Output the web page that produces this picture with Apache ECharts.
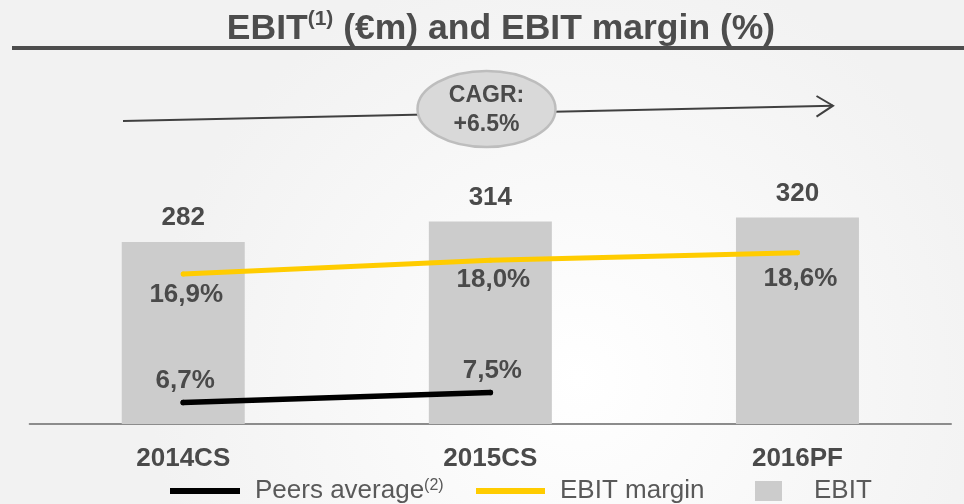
<!DOCTYPE html>
<html>
<head>
<meta charset="utf-8">
<script src="https://cdn.jsdelivr.net/npm/echarts@6/dist/echarts.min.js"></script>
<style>
  html, body { margin: 0; padding: 0; }
  #main { width: 964px; height: 504px; }
</style>
</head>
<body>
<div id="main"></div>
<script>
var categories = ['2014CS', '2015CS', '2016PF'];
var ebit = [282, 314, 320];
var ebitMargin = [16.9, 18.0, 18.6];
var peersAverage = [6.7, 7.5, null];
var cagrText = 'CAGR:\n+6.5%';

var FONT = 'Arial, "Liberation Sans", sans-serif';
var TEXT = '#4a4a4a';
// gap under each margin point (labels sit a bit unevenly in the original)
var marginGap = [5, 4, 11];

function pct(v) {
    return v.toFixed(1).replace('.', ',') + '%';
}

var myChart = echarts.init(document.getElementById('main'));

var option = {
    backgroundColor: {
        type: 'radial', x: 0.6, y: 0.75, r: 0.85,
        colorStops: [{offset: 0, color: '#ffffff'}, {offset: 1, color: '#f2f2f2'}]
    },
    animation: false,
    title: {
        text: '{a|EBIT}{s|(1)}{a| (€m) and EBIT margin (%)}',
        left: 496,
        top: 4,
        textAlign: 'center',
        textStyle: {
            rich: {
                a: {fontFamily: FONT, fontSize: 35.5, fontWeight: 'bold', color: '#4d4d4d', lineHeight: 40},
                s: {fontFamily: FONT, fontSize: 21, fontWeight: 'bold', color: '#4d4d4d', lineHeight: 40, verticalAlign: 'top', padding: [0, 0, 12, 0]}
            }
        }
    },
    grid: {left: 29.7, right: 13, top: 101.5, bottom: 80, outerBoundsMode: 'none'},
    xAxis: {
        type: 'category',
        data: categories,
        axisTick: {show: false},
        axisLine: {lineStyle: {color: '#8c8c8c', width: 2}},
        axisLabel: {fontFamily: FONT, fontSize: 26, fontWeight: 'bold', color: TEXT, margin: 22}
    },
    yAxis: [
        {type: 'value', min: 0, max: 500, show: false},
        {type: 'value', min: 5, max: 30.6, show: false}
    ],
    legend: [
        {
            data: ['Peers average'], left: 170, top: 478, padding: 0,
            icon: 'rect', itemWidth: 70, itemHeight: 6,
            formatter: function () { return '{t|Peers average}{s|(2)}'; },
            textStyle: {
                padding: [0, 0, 0, 10],
                rich: {
                    t: {fontFamily: FONT, fontSize: 26, color: '#595959'},
                    s: {fontFamily: FONT, fontSize: 16, color: '#595959', verticalAlign: 'top', padding: [0, 0, 10, 0]}
                }
            }
        },
        {
            data: ['EBIT margin'], left: 476, top: 478, padding: 0,
            icon: 'rect', itemWidth: 69, itemHeight: 6,
            textStyle: {fontFamily: FONT, fontSize: 26, color: '#595959', padding: [0, 0, 0, 10]}
        },
        {
            data: ['EBIT'], left: 755, top: 478, padding: 0,
            icon: 'rect', itemWidth: 27, itemHeight: 20,
            textStyle: {fontFamily: FONT, fontSize: 26, color: '#595959', padding: [0, 0, 0, 27]}
        }
    ],
    graphic: [
        {type: 'line', shape: {x1: 12, y1: 48, x2: 964, y2: 48}, style: {stroke: '#4d4d4d', lineWidth: 4}},
        {type: 'line', shape: {x1: 123, y1: 121, x2: 833, y2: 105.7}, style: {stroke: '#404040', lineWidth: 2}},
        {type: 'polyline', shape: {points: [[816.5, 96], [833, 105.7], [816.5, 116.7]]}, style: {stroke: '#404040', lineWidth: 2, fill: null}},
        {type: 'ellipse', shape: {cx: 486.5, cy: 109, rx: 69, ry: 38}, style: {fill: '#d9d9d9', stroke: '#bdbdbd', lineWidth: 2.5}},
        {
            type: 'text', x: 486.5, y: 110,
            style: {
                text: cagrText, x: 0, y: 0, align: 'center', verticalAlign: 'middle',
                fontFamily: FONT, fontSize: 23, fontWeight: 'bold', fill: TEXT, lineHeight: 29
            }
        }
    ],
    series: [
        {
            name: 'EBIT',
            type: 'bar',
            data: ebit,
            barWidth: 123,
            itemStyle: {color: '#cccccc'},
            z: 1,
            label: {
                show: true, position: 'top', distance: 11,
                fontFamily: FONT, fontSize: 26, fontWeight: 'bold', color: TEXT
            }
        },
        {
            name: 'EBIT margin',
            type: 'line',
            yAxisIndex: 1,
            data: ebitMargin.map(function (v, i) {
                return {value: v, label: {distance: marginGap[i]}};
            }),
            color: '#ffcc00',
            symbol: 'circle',
            symbolSize: 5,
            lineStyle: {width: 5, color: '#ffcc00', cap: 'round'},
            z: 3,
            label: {
                show: true, position: 'bottom', offset: [3, 0],
                fontFamily: FONT, fontSize: 26, fontWeight: 'bold', color: TEXT,
                formatter: function (p) { return pct(p.value); }
            }
        },
        {
            name: 'Peers average',
            type: 'line',
            yAxisIndex: 1,
            data: peersAverage,
            color: '#000000',
            symbol: 'circle',
            symbolSize: 5.5,
            lineStyle: {width: 5.5, color: '#000000', cap: 'round'},
            z: 3,
            label: {
                show: true, position: 'top', distance: 6, offset: [2, 0],
                fontFamily: FONT, fontSize: 26, fontWeight: 'bold', color: TEXT,
                formatter: function (p) { return pct(p.value); }
            }
        }
    ]
};

myChart.setOption(option);
</script>
</body>
</html>
